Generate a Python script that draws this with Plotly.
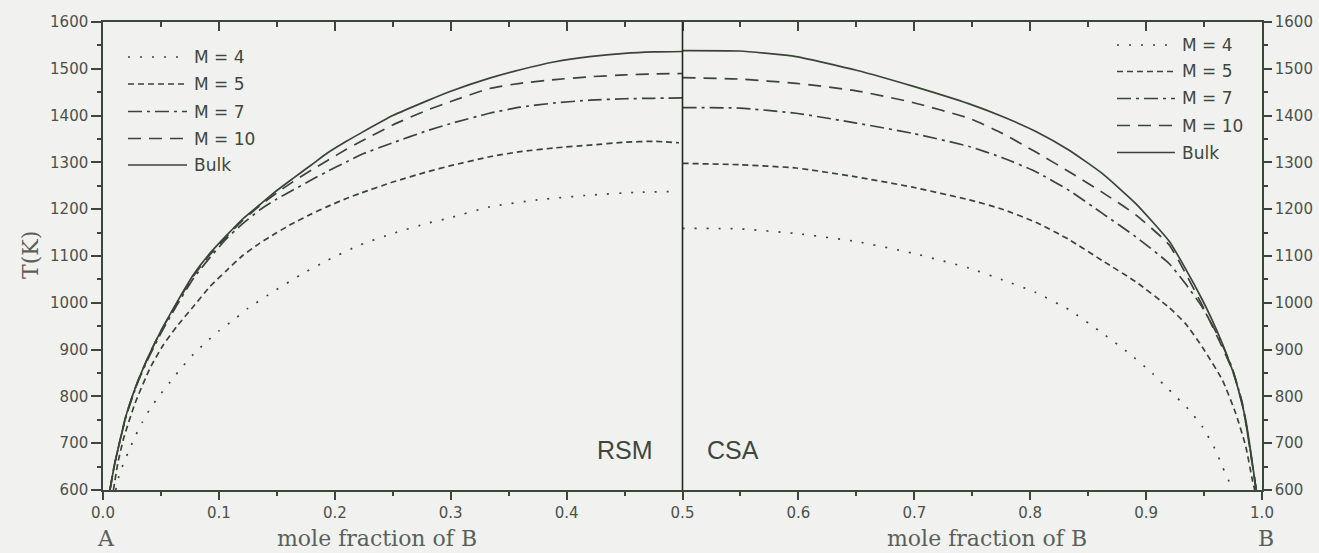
import plotly.graph_objects as go

# ---------------- data ----------------
# RSM side (left half, 0 <= x <= 0.5)
rsm_bulk_x = [0.006, 0.01, 0.02, 0.03, 0.04, 0.05, 0.0635, 0.078, 0.092, 0.107, 0.12, 0.135, 0.15, 0.164,
              0.18, 0.193, 0.21, 0.222, 0.25, 0.28, 0.30, 0.3336, 0.36, 0.39, 0.42, 0.45, 0.475, 0.5]
rsm_bulk_T = [600, 655, 760, 832, 890, 940, 1000, 1060, 1105, 1145, 1178, 1209, 1240, 1266,
              1295, 1319, 1345, 1362, 1400, 1432, 1452, 1480, 1498, 1515, 1526, 1533, 1536, 1537]

rsm_m10_x = rsm_bulk_x
rsm_m10_T = [600, 655, 760, 832, 890, 940, 998, 1057, 1102, 1142, 1175, 1207, 1235, 1259,
             1284, 1303, 1328, 1344, 1380, 1412, 1430, 1458, 1469, 1477, 1483, 1487, 1489, 1490]

rsm_m7_x = rsm_bulk_x
rsm_m7_T = [600, 655, 758, 830, 886, 935, 994, 1052, 1096, 1138, 1168, 1198, 1222, 1241,
            1263, 1280, 1301, 1316, 1342, 1368, 1383, 1405, 1418, 1427, 1433, 1436, 1437, 1438]

rsm_m5_x = [0.009, 0.013, 0.018, 0.0276, 0.0405, 0.052, 0.0635, 0.078, 0.092, 0.107, 0.12, 0.135, 0.15,
            0.164, 0.18, 0.193, 0.21, 0.222, 0.25, 0.28, 0.30, 0.3336, 0.36, 0.39, 0.42, 0.45, 0.475, 0.497]
rsm_m5_T = [600, 660, 712, 785, 860, 910, 949, 992, 1034, 1070, 1100, 1127, 1150,
            1170, 1190, 1205, 1223, 1234, 1258, 1280, 1293, 1312, 1323, 1331, 1337, 1343, 1345, 1342]

rsm_m4_x = [0.011, 0.014, 0.018, 0.023, 0.028, 0.034, 0.041, 0.0485, 0.058, 0.067, 0.078, 0.089, 0.10,
            0.1125, 0.125, 0.147, 0.17, 0.193, 0.222, 0.25, 0.28, 0.30, 0.3336, 0.375, 0.42, 0.46, 0.497]
rsm_m4_T = [600, 632, 659, 688, 716, 745, 775, 801, 831, 859, 890, 916, 940,
            963, 988, 1024, 1059, 1090, 1124, 1148, 1170, 1182, 1205, 1220, 1230, 1236, 1238]

# CSA side (right half, 0.5 <= x <= 1)
csa_bulk_x = [0.5, 0.549, 0.598, 0.65, 0.6986, 0.7474, 0.776, 0.8049, 0.8336, 0.8623, 0.8911, 0.9198,
              0.9342, 0.9486, 0.9572, 0.9658, 0.9715, 0.9773, 0.9816, 0.986, 0.9889, 0.9917, 0.995]
csa_bulk_T = [1539, 1538, 1526, 1497, 1463, 1425, 1398, 1366, 1326, 1276, 1212, 1132,
              1072, 1006, 962, 913, 876, 835, 795, 750, 705, 657, 600]

csa_m10_x = [0.5, 0.549, 0.598, 0.65, 0.6986, 0.7474, 0.776, 0.8049, 0.8336, 0.8623, 0.8911, 0.9198,
             0.9342, 0.9486, 0.9629, 0.9744, 0.983, 0.9902, 0.995]
csa_m10_T = [1481, 1478, 1469, 1453, 1428, 1394, 1362, 1322, 1280, 1236, 1188, 1124,
             1062, 994, 920, 856, 785, 678, 600]

csa_m7_x = csa_m10_x
csa_m7_T = [1417, 1416, 1405, 1384, 1362, 1334, 1310, 1280, 1240, 1191, 1141, 1084,
            1040, 990, 925, 860, 785, 680, 600]

csa_m5_x = [0.5, 0.549, 0.598, 0.65, 0.6986, 0.7474, 0.776, 0.8049, 0.8336, 0.8623, 0.8911, 0.9198,
            0.9342, 0.9486, 0.9658, 0.9773, 0.986, 0.9917, 0.9937]
csa_m5_T = [1298, 1295, 1288, 1269, 1247, 1220, 1200, 1172, 1135, 1090, 1045, 990,
            955, 905, 835, 764, 693, 621, 600]

csa_m4_x = [0.5, 0.549, 0.598, 0.65, 0.6986, 0.7474, 0.7761, 0.8049, 0.8336, 0.8623, 0.8853, 0.9055,
            0.9198, 0.9371, 0.9486, 0.96, 0.9658, 0.9716, 0.974]
csa_m4_T = [1159, 1158, 1148, 1131, 1106, 1074, 1049, 1022, 985, 935, 892, 849,
            814, 771, 735, 685, 650, 618, 600]

series_names = ["M = 4", "M = 5", "M = 7", "M = 10", "Bulk"]
x_tick_vals = [0.0, 0.1, 0.2, 0.3, 0.4, 0.5, 0.6, 0.7, 0.8, 0.9, 1.0]
y_tick_vals = [600, 700, 800, 900, 1000, 1100, 1200, 1300, 1400, 1500, 1600]
divider_x = 0.5

# ---------------- styling ----------------
W, H = 1319, 553
ML, MR, MT, MB = 103, 57, 22, 63
PW, PH = W - ML - MR, H - MT - MB

BG = "#f1f2f0"
LINE_C = "#3a4437"
AXIS_C = "#3b473a"
TEXT_C = "#4b514a"
dashes = ["2px,10px", "6px,4px", "14px,5px,3px,5px", "13px,8px", "solid"]
LW = 1.7


def px(xp):
    return (xp - ML) / PW


def py(yp):
    return (MT + PH - yp) / PH


fig = go.Figure()

rsm = [(rsm_m4_x, rsm_m4_T), (rsm_m5_x, rsm_m5_T), (rsm_m7_x, rsm_m7_T), (rsm_m10_x, rsm_m10_T),
       (rsm_bulk_x, rsm_bulk_T)]
csa = [(csa_m4_x, csa_m4_T), (csa_m5_x, csa_m5_T), (csa_m7_x, csa_m7_T), (csa_m10_x, csa_m10_T),
       (csa_bulk_x, csa_bulk_T)]

for (xs, ts), name, d in zip(rsm, series_names, dashes):
    fig.add_trace(go.Scatter(x=xs, y=ts, mode="lines", name=name, showlegend=False,
                             line=dict(color=LINE_C, width=LW, dash=d, shape="spline", smoothing=0.5)))
for (xs, ts), name, d in zip(csa, series_names, dashes):
    fig.add_trace(go.Scatter(x=xs, y=ts, mode="lines", name=name + " (CSA)", showlegend=False,
                             line=dict(color=LINE_C, width=LW, dash=d, shape="spline", smoothing=0.5)))

# invisible trace so the mirrored top / right axes exist
fig.add_trace(go.Scatter(x=[divider_x], y=[y_tick_vals[0]], xaxis="x2", yaxis="y2", mode="markers",
                         marker=dict(opacity=0), showlegend=False, hoverinfo="skip"))

# divider line at x = 0.5
fig.add_shape(type="line", xref="x", yref="y", x0=divider_x, x1=divider_x,
              y0=y_tick_vals[0], y1=y_tick_vals[-1], line=dict(color="#1f281f", width=1.6))

# manual legends (left and right)
left_rows = [57, 84, 111.5, 138.5, 165]
right_rows = [45, 71.5, 98.5, 125.5, 152.5]
for rows, x0p, x1p, xtp in [(left_rows, 128, 187, 192), (right_rows, 1117, 1175, 1180)]:
    for yy, name, d in zip(rows, series_names, dashes):
        fig.add_shape(type="line", xref="paper", yref="paper", x0=px(x0p), x1=px(x1p),
                      y0=py(yy), y1=py(yy), line=dict(color=LINE_C, width=LW, dash=d))
        fig.add_annotation(xref="paper", yref="paper", x=px(xtp), y=py(yy), text=name,
                           showarrow=False, xanchor="left", yanchor="middle",
                           font=dict(family="DejaVu Sans", size=17, color="#3f463e"))

serif = dict(family="DejaVu Serif", size=22, color="#5a6059")
# axis titles / labels
fig.add_annotation(xref="paper", yref="paper", x=px(106), y=py(538), text="A", showarrow=False,
                   xanchor="center", yanchor="middle", font=serif)
fig.add_annotation(xref="paper", yref="paper", x=px(1266), y=py(538), text="B", showarrow=False,
                   xanchor="center", yanchor="middle", font=serif)
fig.add_annotation(xref="paper", yref="paper", x=px(377), y=py(538), text="mole fraction of B",
                   showarrow=False, xanchor="center", yanchor="middle", font=serif)
fig.add_annotation(xref="paper", yref="paper", x=px(987), y=py(538), text="mole fraction of B",
                   showarrow=False, xanchor="center", yanchor="middle", font=serif)
fig.add_annotation(xref="paper", yref="paper", x=px(30), y=py(255), text="T(K)", textangle=-90,
                   showarrow=False, xanchor="center", yanchor="middle", font=serif)

sans_big = dict(family="Liberation Sans", size=25, color="#3f463e")
fig.add_annotation(xref="paper", yref="paper", x=px(625), y=py(450), text="RSM", showarrow=False,
                   xanchor="center", yanchor="middle", font=sans_big)
fig.add_annotation(xref="paper", yref="paper", x=px(733), y=py(450), text="CSA", showarrow=False,
                   xanchor="center", yanchor="middle", font=sans_big)

tickfont = dict(family="DejaVu Sans", size=15, color=TEXT_C)
common_axis = dict(showgrid=False, zeroline=False, showline=True, linecolor=AXIS_C, linewidth=1.5,
                   tickcolor=AXIS_C, tickwidth=1.5, automargin=False)

fig.update_layout(
    width=W, height=H,
    margin=dict(l=ML, r=MR, t=MT, b=MB, pad=0, autoexpand=False),
    paper_bgcolor=BG, plot_bgcolor=BG,
    showlegend=False,
    xaxis=dict(range=[0, 1], tickvals=x_tick_vals, ticktext=[f"{v:.1f}" for v in x_tick_vals],
               ticks="outside", ticklen=8, tickfont=tickfont,
               minor=dict(dtick=0.05, tick0=0, ticks="outside", ticklen=4, tickcolor=AXIS_C, tickwidth=1.5),
               **common_axis),
    xaxis2=dict(range=[0, 1], overlaying="x", side="top", anchor="y", tickvals=x_tick_vals,
                ticks="inside", ticklen=9, showticklabels=False,
                minor=dict(dtick=0.05, tick0=0, ticks="inside", ticklen=5, tickcolor=AXIS_C, tickwidth=1.5),
                **common_axis),
    yaxis=dict(range=[600, 1600], tickvals=y_tick_vals, ticks="outside", ticklen=10, tickfont=tickfont,
               minor=dict(dtick=50, tick0=600, ticks="outside", ticklen=4, tickcolor=AXIS_C, tickwidth=1.5),
               **common_axis),
    yaxis2=dict(range=[600, 1600], overlaying="y", side="right", anchor="x", tickvals=y_tick_vals,
                ticks="outside", ticklen=8, tickfont=tickfont,
                minor=dict(dtick=50, tick0=600, ticks="outside", ticklen=4, tickcolor=AXIS_C, tickwidth=1.5),
                **common_axis),
)

fig.write_html("out.html", config={"displayModeBar": False},
               post_script="document.body.style.margin='0px';document.body.style.overflow='hidden';"
                           "document.body.style.background='" + BG + "';")
